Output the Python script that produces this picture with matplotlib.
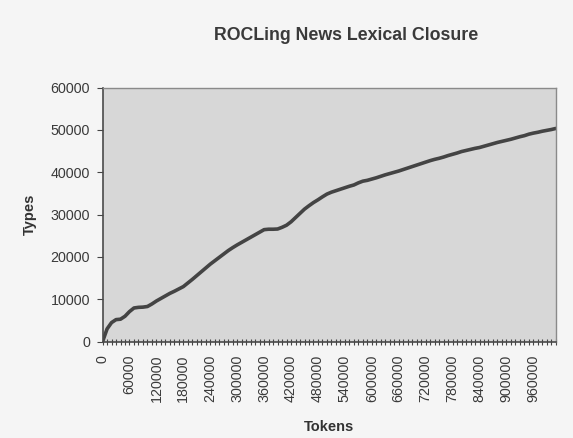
import matplotlib.pyplot as plt
import numpy as np

tokens = np.arange(0, 1020000, 10000)
types = [
    0, 3000, 4500, 5200, 5300, 6000, 7100, 7950, 8100, 8150,
    8300, 8900, 9600, 10200, 10800, 11400, 11900, 12450, 13000, 13850,
    14700, 15600, 16500, 17400, 18300, 19100, 19900, 20700, 21500, 22200,
    22850, 23450, 24050, 24650, 25250, 25850, 26450, 26550, 26550, 26600,
    27000, 27500, 28300, 29300, 30300, 31300, 32100, 32850, 33500, 34200,
    34850, 35300, 35650, 36000, 36350, 36700, 37000, 37500, 37900, 38100,
    38400, 38700, 39050, 39400, 39700, 40000, 40300, 40650, 41000, 41350,
    41700, 42050, 42400, 42750, 43050, 43300, 43600, 43950, 44250, 44550,
    44900, 45150, 45400, 45650, 45850, 46150, 46450, 46750, 47050, 47300,
    47550, 47800, 48100, 48400, 48650, 49000, 49250, 49450, 49700, 49900,
    50100, 50350,
]
x_labels = np.arange(0, 1000000, 60000)
y_labels = np.arange(0, 70000, 10000)

plt.rcParams['font.family'] = ['Liberation Sans', 'DejaVu Sans']

fig = plt.figure(figsize=(5.73, 4.38), dpi=100, facecolor='#f5f5f5')
ax = fig.add_axes([0.179, 0.220, 0.791, 0.580])
ax.set_facecolor('#d7d7d7')

ax.plot(tokens, types, color='#444444', lw=2.6, solid_capstyle='round')

ax.set_xlim(0, tokens[-1])
ax.set_ylim(0, 60000)

ax.set_xticks(x_labels)
ax.set_xticklabels([str(v) for v in x_labels], rotation=90)
ax.set_xticks(tokens, minor=True)
ax.set_yticks(y_labels)
ax.set_yticklabels([str(v) for v in y_labels])

ax.tick_params(axis='x', which='both', direction='inout', length=5, width=0.8,
               color='#444444', labelsize=10.3, labelcolor='#3a3a3a', pad=7)
ax.tick_params(axis='y', direction='out', length=4, width=0.8,
               color='#444444', labelsize=10.3, labelcolor='#3a3a3a', pad=5)

for side in ['left', 'bottom']:
    ax.spines[side].set_color('#4a4a4a')
    ax.spines[side].set_linewidth(1.2)
for side in ['top', 'right']:
    ax.spines[side].set_color('#8a8a8a')
    ax.spines[side].set_linewidth(1.0)

ax.set_xlabel('Tokens', fontsize=10.5, fontweight='bold', color='#333333', labelpad=13)
ax.set_ylabel('Types', fontsize=10.5, fontweight='bold', color='#333333', labelpad=10)
fig.text(0.604, 0.920, 'ROCLing News Lexical Closure', ha='center', va='center',
         fontsize=12.8, fontweight='bold', color='#3a3a3a')

fig.savefig('out.png', dpi=100, facecolor=fig.get_facecolor())
